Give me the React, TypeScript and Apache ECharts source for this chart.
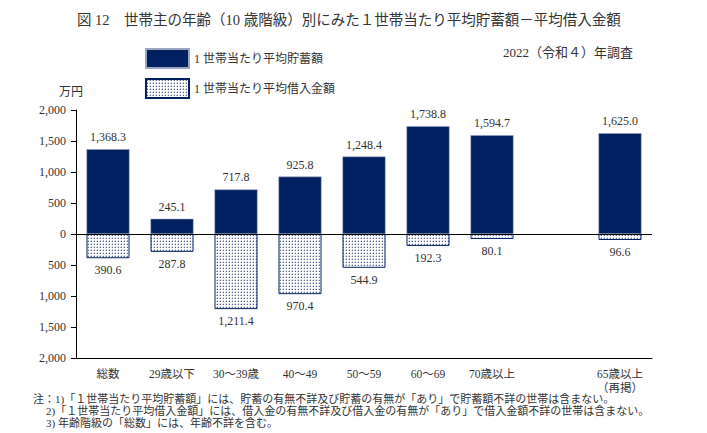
import React, { useEffect, useRef } from 'react';
import * as echarts from 'echarts';

const categories = ['総数', '29歳以下', '30～39歳', '40～49', '50～59', '60～69', '70歳以上', '', '65歳以上\n（再掲）'];
const savings: (number | null)[] = [1368.3, 245.1, 717.8, 925.8, 1248.4, 1738.8, 1594.7, null, 1625.0];
const borrowings: (number | null)[] = [390.6, 287.8, 1211.4, 970.4, 544.9, 192.3, 80.1, null, 96.6];
const seriesNames = ['1 世帯当たり平均貯蓄額', '1 世帯当たり平均借入金額'];
const titleText = '図 12　世帯主の年齢（10 歳階級）別にみた１世帯当たり平均貯蓄額－平均借入金額';
const surveyText = '2022（令和４）年調査';
const unitText = '万円';
const notes = [
  '注：1)「１世帯当たり平均貯蓄額」には、貯蓄の有無不詳及び貯蓄の有無が「あり」で貯蓄額不詳の世帯は含まない。',
  '2)「１世帯当たり平均借入金額」には、借入金の有無不詳及び借入金の有無が「あり」で借入金額不詳の世帯は含まない。',
  '3) 年齢階級の「総数」には、年齢不詳を含む。',
];

const NAVY = '#002060';
const FONT = "'Liberation Serif', 'Noto Sans CJK JP', serif";
const TXT = '#333333';

function makePattern() {
  const c = document.createElement('canvas');
  c.width = 3;
  c.height = 3;
  const ctx = c.getContext('2d')!;
  ctx.fillStyle = '#ffffff';
  ctx.fillRect(0, 0, 3, 3);
  ctx.fillStyle = '#5a6896';
  ctx.fillRect(1, 1, 1, 1);
  ctx.fillStyle = '#c4cadc';
  ctx.fillRect(0, 1, 1, 1);
  ctx.fillRect(1, 0, 1, 1);
  return c;
}

const fmt1 = (v: number) =>
  Math.abs(v).toLocaleString('en-US', { minimumFractionDigits: 1, maximumFractionDigits: 1 });

export default function App() {
  const ref = useRef<HTMLDivElement>(null);
  useEffect(() => {
    if (!ref.current) return;
    const chart = echarts.init(ref.current, undefined, { renderer: 'svg' });
    const pat = makePattern();
    const patternColor: any = { image: pat, repeat: 'repeat', imageWidth: 3, imageHeight: 3 };
    chart.setOption({
      animation: false,
      backgroundColor: '#ffffff',
      title: {
        text: titleText,
        left: 72,
        top: 8,
        textStyle: { fontSize: 14.5, fontWeight: 'normal', color: TXT, fontFamily: FONT },
      },
      legend: {
        orient: 'vertical',
        left: 145,
        top: 48,
        padding: 0,
        itemWidth: 43,
        itemHeight: 19,
        itemGap: 9,
        textStyle: { fontSize: 12, color: TXT, fontFamily: FONT },
        data: [
          { name: seriesNames[0], icon: 'rect' },
          { name: seriesNames[1], icon: 'rect' },
        ],
      },
      grid: { left: 76, right: 55, top: 110, bottom: 75, containLabel: false },
      xAxis: {
        type: 'category',
        data: categories,
        axisLine: { onZero: false, lineStyle: { color: '#000', width: 1 } },
        axisTick: { show: false },
        axisLabel: { fontSize: 11.5, color: TXT, fontFamily: FONT, margin: 9, lineHeight: 14, interval: 0 },
      },
      yAxis: {
        type: 'value',
        min: -2000,
        max: 2000,
        interval: 500,
        name: unitText,
        nameLocation: 'end',
        nameGap: 12,
        nameTextStyle: { fontSize: 12, color: TXT, fontFamily: FONT, align: 'center', padding: [0, 10, 0, 0] },
        axisLine: { show: true, lineStyle: { color: '#000', width: 1 } },
        axisTick: { show: true, length: 5, lineStyle: { color: '#000' } },
        splitLine: { show: false },
        axisLabel: {
          fontSize: 12,
          color: TXT,
          fontFamily: FONT,
          margin: 10,
          formatter: (v: number) => Math.abs(v).toLocaleString('en-US'),
        },
      },
      series: [
        {
          name: seriesNames[0],
          type: 'bar',
          stack: 'total',
          data: savings,
          barWidth: 43,
          itemStyle: { color: NAVY, borderColor: '#9aa6c2', borderWidth: 0.5 },
          label: {
            show: true,
            position: 'top',
            distance: 6,
            fontSize: 12,
            color: TXT,
            fontFamily: FONT,
            formatter: (p: any) => (p.value == null ? '' : fmt1(p.value)),
          },
          markLine: {
            silent: true,
            symbol: 'none',
            label: { show: false },
            lineStyle: { color: '#000', width: 1, type: 'solid' },
            data: [{ yAxis: 0 }],
          },
          z: 2,
        },
        {
          name: seriesNames[1],
          type: 'bar',
          stack: 'total',
          data: borrowings.map((v) => (v == null ? null : -v)),
          barWidth: 43,
          itemStyle: { color: patternColor, borderColor: NAVY, borderWidth: 1 },
          label: {
            show: true,
            position: 'bottom',
            distance: 6,
            fontSize: 12,
            color: TXT,
            fontFamily: FONT,
            formatter: (p: any) => (p.value == null ? '' : fmt1(p.value)),
          },
          z: 2,
        },
      ],
      graphic: [
        {
          type: 'text',
          left: 503,
          top: 46,
          style: { text: surveyText, fontSize: 13, fill: TXT, fontFamily: FONT },
        },
        {
          type: 'text',
          left: 33,
          top: 393,
          style: { text: notes[0], fontSize: 11, fill: TXT, fontFamily: FONT },
        },
        {
          type: 'text',
          left: 46,
          top: 405,
          style: { text: notes[1], fontSize: 11, fill: TXT, fontFamily: FONT },
        },
        {
          type: 'text',
          left: 46,
          top: 417,
          style: { text: notes[2], fontSize: 11, fill: TXT, fontFamily: FONT },
        },
      ],
    });
    return () => chart.dispose();
  }, []);
  return <div ref={ref} style={{ position: 'absolute', left: 0, top: 0, width: 707, height: 433 }} />;
}
